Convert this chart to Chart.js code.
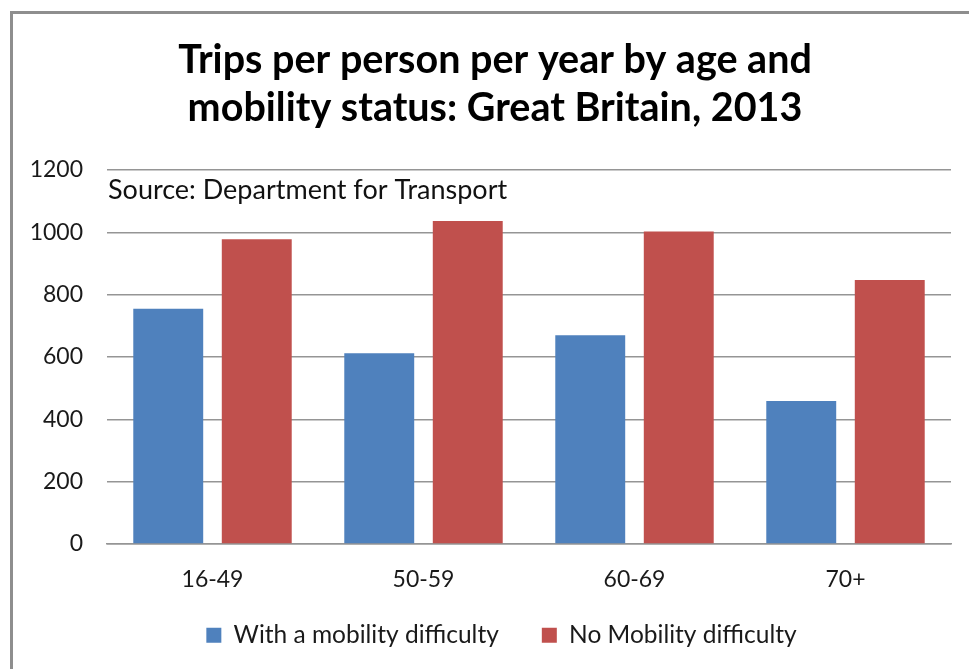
<!DOCTYPE html>
<html>
<head>
<meta charset="utf-8">
<title>Trips per person per year by age and mobility status</title>
<script src="https://cdn.jsdelivr.net/npm/chart.js@4.4.1/dist/chart.umd.min.js"></script>
<style>
  html, body { margin: 0; padding: 0; background: #fff; overflow: hidden; }
  #frame {
    position: absolute; left: 10px; top: 11px;
    width: 1000px; height: 700px;
    border-left: 3px solid #8e8e8e; border-top: 3px solid #8e8e8e;
  }
  #wrap { position: absolute; left: 0; top: 0; width: 969px; height: 669px; }
</style>
</head>
<body>
<div id="frame"></div>
<div id="wrap"><canvas id="tripsChart" width="969" height="669"></canvas></div>
<script>
const ageGroups = ['16-49', '50-59', '60-69', '70+'];
const withDifficulty = [755, 612, 670, 459];
const noDifficulty = [978, 1036, 1003, 847];
const titleLines = ['Trips per person per year by age and', 'mobility status: Great Britain, 2013'];
const sourceNote = 'Source: Department for Transport';

const FONT = "Lato, 'Open Sans', sans-serif";

// note text sitting at the top-left of the plot area
const sourceLabel = {
    id: 'sourceLabel',
    afterDraw(chart) {
        const { ctx, chartArea } = chart;
        ctx.save();
        ctx.font = `27px ${FONT}`;
        ctx.fillStyle = '#111';
        ctx.textAlign = 'left';
        ctx.textBaseline = 'alphabetic';
        ctx.fillText(sourceNote, chartArea.left + 1, chartArea.top + 29);
        ctx.restore();
    }
};

// title is centred on the outer frame, legend sits a little higher and to the right
const boxNudge = {
    id: 'boxNudge',
    afterLayout(chart) {
        chart.titleBlock.left += 39;
        chart.legend.left += 52;
        chart.legend.top -= 13;
        chart.legend.bottom -= 13;
    }
};

new Chart(document.getElementById('tripsChart'), {
    type: 'bar',
    data: {
        labels: ageGroups,
        datasets: [
            {
                label: 'With a mobility difficulty',
                data: withDifficulty,
                backgroundColor: '#4F81BD'
            },
            {
                label: 'No Mobility difficulty',
                data: noDifficulty,
                backgroundColor: '#C0504D'
            }
        ]
    },
    options: {
        responsive: false,
        animation: false,
        devicePixelRatio: 1,
        categoryPercentage: 0.839,
        barPercentage: 0.79,
        layout: {
            padding: { left: 0, right: 18, top: 0, bottom: 0 }
        },
        plugins: {
            title: {
                display: true,
                text: titleLines,
                color: '#000',
                font: { family: FONT, size: 39.5, weight: 'bold', lineHeight: 1.215 },
                padding: { top: 36, bottom: 38 }
            },
            legend: {
                position: 'bottom',
                maxHeight: 76,
                labels: {
                    color: '#1a1a1a',
                    boxWidth: 15,
                    boxHeight: 15,
                    padding: 43,
                    font: { family: FONT, size: 24.5 }
                }
            },
            tooltip: { enabled: false }
        },
        scales: {
            x: {
                grid: { display: false },
                border: { display: true, color: '#959595', width: 1.5 },
                ticks: {
                    color: '#1a1a1a',
                    padding: 14,
                    font: { family: FONT, size: 23 }
                },
                afterFit(axis) { axis.height = 49; }
            },
            y: {
                min: 0,
                max: 1200,
                ticks: {
                    stepSize: 200,
                    color: '#1a1a1a',
                    padding: 24,
                    font: { family: FONT, size: 23 },
                    callback: (value) => String(value)
                },
                grid: { color: '#959595', lineWidth: 1.5, drawTicks: false },
                border: { display: false },
                afterFit(axis) { axis.width = 107; }
            }
        }
    },
    plugins: [sourceLabel, boxNudge]
});
</script>
</body>
</html>
